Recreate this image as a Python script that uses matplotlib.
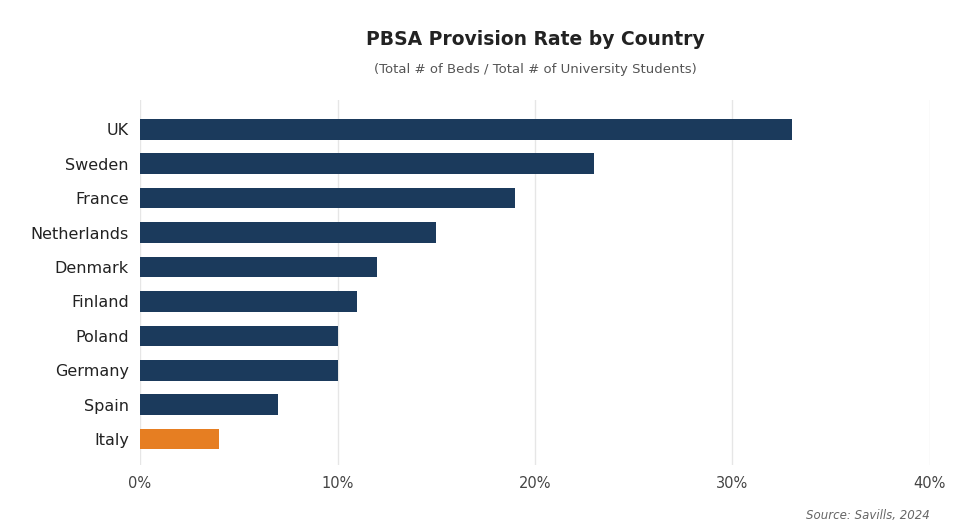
import matplotlib
matplotlib.use("Agg")
import matplotlib.pyplot as plt
from matplotlib.ticker import FuncFormatter

countries = ['UK', 'Sweden', 'France', 'Netherlands', 'Denmark',
             'Finland', 'Poland', 'Germany', 'Spain', 'Italy']
rates = [33, 23, 19, 15, 12, 11, 10, 10, 7, 4]
highlight = 'Italy'

navy = '#1b3a5c'
orange = '#e67e22'


def main():
    plt.rcParams['font.family'] = ['DejaVu Sans']
    fig = plt.figure(figsize=(9.63, 5.29), dpi=100)
    ax = fig.add_axes([0.1454, 0.121, 0.8203, 0.690])

    colors = [orange if c == highlight else navy for c in countries]
    ypos = list(range(len(countries)))
    ax.barh(ypos, rates, height=0.6, color=colors, zorder=3)

    ax.set_yticks(ypos)
    ax.set_yticklabels(countries, fontsize=11.5, color='#222222')
    ax.set_xlim(0, 40)
    ax.set_xticks([0, 10, 20, 30, 40])
    ax.xaxis.set_major_formatter(FuncFormatter(lambda v, p: f'{v:.0f}%'))
    ax.set_ylim(9.75, -0.85)

    for s in ax.spines.values():
        s.set_visible(False)
    ax.tick_params(axis='both', length=0)
    ax.tick_params(axis='x', labelsize=10.5, labelcolor='#444444', pad=8)
    ax.tick_params(axis='y', pad=8)
    ax.grid(axis='x', color='#e6e6e6', linewidth=1, zorder=0)

    fig.text(0.5557, 0.925, 'PBSA Provision Rate by Country', ha='center', va='center',
             fontsize=13.5, fontweight='bold', color='#222222')
    fig.text(0.5557, 0.869, '(Total # of Beds / Total # of University Students)',
             ha='center', va='center', fontsize=9.5, color='#555555')
    fig.text(0.9657, 0.026, 'Source: Savills, 2024', ha='right', va='center',
             fontsize=8.5, style='italic', color='#666666')

    fig.savefig('out.png', dpi=100, facecolor='white')


if __name__ == '__main__':
    main()
